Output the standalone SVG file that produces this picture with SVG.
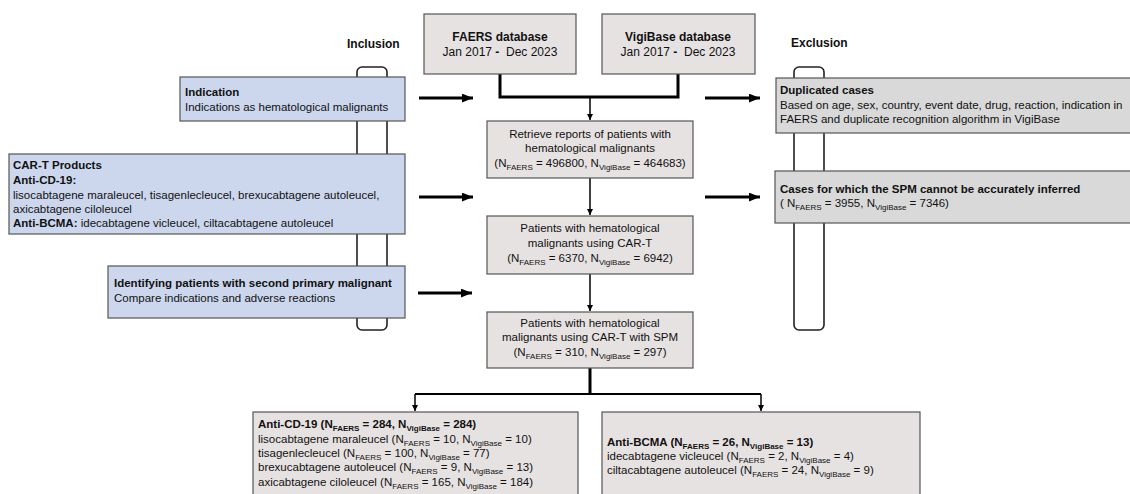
<svg xmlns="http://www.w3.org/2000/svg" width="1130" height="494" viewBox="0 0 1130 494">
<defs>
<style>
text{font-family:"Liberation Sans",Arial,sans-serif;font-size:11.5px;fill:#111}
.b{font-weight:bold}
.c{text-anchor:middle}
.s{font-size:8px}
.h{font-size:12px}
.blue{fill:#ccd7ee;stroke:#555;stroke-width:1.2}
.mid{fill:#e7e2e2;stroke:#555;stroke-width:1.2}
.gray{fill:#d9d9d9;stroke:#555;stroke-width:1.2}
.br{fill:none;stroke:#222;stroke-width:1.6}
.thick{fill:none;stroke:#000;stroke-width:3}
.thin{fill:none;stroke:#000;stroke-width:1.5}
</style>
<marker id="ahT" viewBox="0 0 10 8" refX="10" refY="4" markerWidth="11" markerHeight="9" markerUnits="userSpaceOnUse" orient="auto"><path d="M0 0L10 4L0 8z" fill="#000"/></marker>
<marker id="ahS" viewBox="0 0 6 6" refX="6" refY="3" markerWidth="6" markerHeight="6" markerUnits="userSpaceOnUse" orient="auto"><path d="M0 0L6 3L0 6z" fill="#000"/></marker>
</defs>
<rect width="1130" height="494" fill="#fff"/>

<g id="inclusion-label"><text x="347" y="48" class="b h">Inclusion</text></g>
<g id="exclusion-label"><text x="791" y="47" class="b h">Exclusion</text></g>
<g id="brackets">
<rect x="357" y="67" width="30" height="263" rx="5" class="br"/>
<rect x="794" y="67" width="30" height="263" rx="5" class="br"/>
</g>

<g id="connectors">
<path d="M500 74V97H678V74" class="thick"/>
<path d="M590 97V120" class="thin" marker-end="url(#ahS)"/>
<path d="M590 178V215" class="thin" marker-end="url(#ahS)"/>
<path d="M590 274V311" class="thin" marker-end="url(#ahS)"/>
<path d="M590 368V394" class="thick"/>
<path d="M415 394H761" style="fill:none;stroke:#000;stroke-width:2"/>
<path d="M415 394V411" class="thin" marker-end="url(#ahS)"/>
<path d="M761 394V411" class="thin" marker-end="url(#ahS)"/>
<path d="M419 98H473" class="thick" marker-end="url(#ahT)"/>
<path d="M419 197H473" class="thick" marker-end="url(#ahT)"/>
<path d="M418 293H472" class="thick" marker-end="url(#ahT)"/>
<path d="M705 98H760" class="thick" marker-end="url(#ahT)"/>
<path d="M705 197H760" class="thick" marker-end="url(#ahT)"/>
</g>

<g id="faers">
<rect x="424" y="14" width="152" height="60" class="mid"/>
<text x="500" y="41" class="b c h">FAERS database</text>
<text x="500" y="56" class="c h" xml:space="preserve">Jan 2017 <tspan class="b">-</tspan>  Dec 2023</text>
</g>
<g id="vigibase">
<rect x="602" y="14" width="153" height="60" class="mid"/>
<text x="678" y="41" class="b c h">VigiBase database</text>
<text x="678" y="56" class="c h" xml:space="preserve">Jan 2017 <tspan class="b">-</tspan>  Dec 2023</text>
</g>

<g id="retrieve">
<rect x="487" y="121" width="206" height="57" class="mid"/>
<text x="590" y="138" class="c">Retrieve reports of patients with</text>
<text x="590" y="152" class="c">hematological malignants</text>
<text x="590" y="167" class="c">(N<tspan class="s" dy="3">FAERS</tspan><tspan dy="-3"> = 496800, N</tspan><tspan class="s" dy="3">VigiBase</tspan><tspan dy="-3"> = 464683)</tspan></text>
</g>
<g id="cart">
<rect x="487" y="216" width="206" height="58" class="mid"/>
<text x="590" y="232" class="c">Patients with hematological</text>
<text x="590" y="247" class="c">malignants using CAR-T</text>
<text x="590" y="262" class="c">(N<tspan class="s" dy="3">FAERS</tspan><tspan dy="-3"> = 6370, N</tspan><tspan class="s" dy="3">VigiBase</tspan><tspan dy="-3"> = 6942)</tspan></text>
</g>
<g id="spm">
<rect x="487" y="312" width="206" height="56" class="mid"/>
<text x="590" y="327" class="c">Patients with hematological</text>
<text x="590" y="341" class="c">malignants using CAR-T with SPM</text>
<text x="590" y="356" class="c">(N<tspan class="s" dy="3">FAERS</tspan><tspan dy="-3"> = 310, N</tspan><tspan class="s" dy="3">VigiBase</tspan><tspan dy="-3"> = 297)</tspan></text>
</g>

<g id="indication">
<rect x="180" y="77" width="225" height="44" class="blue"/>
<text x="185" y="96" class="b">Indication</text>
<text x="185" y="111">Indications as hematological malignants</text>
</g>
<g id="cart-products">
<rect x="9" y="154" width="396" height="80" class="blue"/>
<text x="13" y="169" class="b">CAR-T Products</text>
<text x="13" y="184" class="b">Anti-CD-19:</text>
<text x="13" y="199">lisocabtagene maraleucel, tisagenlecleucel, brexucabtagene autoleucel,</text>
<text x="13" y="213">axicabtagene ciloleucel</text>
<text x="13" y="227"><tspan class="b">Anti-BCMA:</tspan> idecabtagene vicleucel, ciltacabtagene autoleucel</text>
</g>
<g id="identifying">
<rect x="108" y="266" width="297" height="52" class="blue"/>
<text x="114" y="287" class="b">Identifying patients with second primary malignant</text>
<text x="114" y="302">Compare indications and adverse reactions</text>
</g>

<g id="duplicated">
<rect x="776" y="78" width="360" height="55" class="gray"/>
<text x="780" y="94" class="b">Duplicated cases</text>
<text x="780" y="109">Based on age, sex, country, event date, drug, reaction, indication in</text>
<text x="780" y="123">FAERS and duplicate recognition algorithm in VigiBase</text>
</g>
<g id="cases-spm">
<rect x="775" y="171" width="360" height="52" class="gray"/>
<text x="780" y="193" class="b">Cases for which the SPM cannot be accurately inferred</text>
<text x="780" y="207">( N<tspan class="s" dy="3">FAERS</tspan><tspan dy="-3"> = 3955, N</tspan><tspan class="s" dy="3">VigiBase</tspan><tspan dy="-3"> = 7346)</tspan></text>
</g>

<g id="anti-cd19">
<rect x="253" y="412" width="325" height="90" class="mid"/>
<text x="258" y="428" class="b">Anti-CD-19 (N<tspan class="s" dy="3">FAERS</tspan><tspan dy="-3"> = 284, N</tspan><tspan class="s" dy="3">VigiBase</tspan><tspan dy="-3"> = 284)</tspan></text>
<text x="258" y="443">lisocabtagene maraleucel (N<tspan class="s" dy="3">FAERS</tspan><tspan dy="-3"> = 10, N</tspan><tspan class="s" dy="3">VigiBase</tspan><tspan dy="-3"> = 10)</tspan></text>
<text x="258" y="457">tisagenlecleucel (N<tspan class="s" dy="3">FAERS</tspan><tspan dy="-3"> = 100, N</tspan><tspan class="s" dy="3">VigiBase</tspan><tspan dy="-3"> = 77)</tspan></text>
<text x="258" y="471">brexucabtagene autoleucel (N<tspan class="s" dy="3">FAERS</tspan><tspan dy="-3"> = 9, N</tspan><tspan class="s" dy="3">VigiBase</tspan><tspan dy="-3"> = 13)</tspan></text>
<text x="258" y="486">axicabtagene ciloleucel (N<tspan class="s" dy="3">FAERS</tspan><tspan dy="-3"> = 165, N</tspan><tspan class="s" dy="3">VigiBase</tspan><tspan dy="-3"> = 184)</tspan></text>
</g>
<g id="anti-bcma">
<rect x="602" y="412" width="318" height="90" class="mid"/>
<text x="607" y="446" class="b">Anti-BCMA (N<tspan class="s" dy="3">FAERS</tspan><tspan dy="-3"> = 26, N</tspan><tspan class="s" dy="3">VigiBase</tspan><tspan dy="-3"> = 13)</tspan></text>
<text x="607" y="460">idecabtagene vicleucel (N<tspan class="s" dy="3">FAERS</tspan><tspan dy="-3"> = 2, N</tspan><tspan class="s" dy="3">VigiBase</tspan><tspan dy="-3"> = 4)</tspan></text>
<text x="607" y="474">ciltacabtagene autoleucel (N<tspan class="s" dy="3">FAERS</tspan><tspan dy="-3"> = 24, N</tspan><tspan class="s" dy="3">VigiBase</tspan><tspan dy="-3"> = 9)</tspan></text>
</g>
</svg>
